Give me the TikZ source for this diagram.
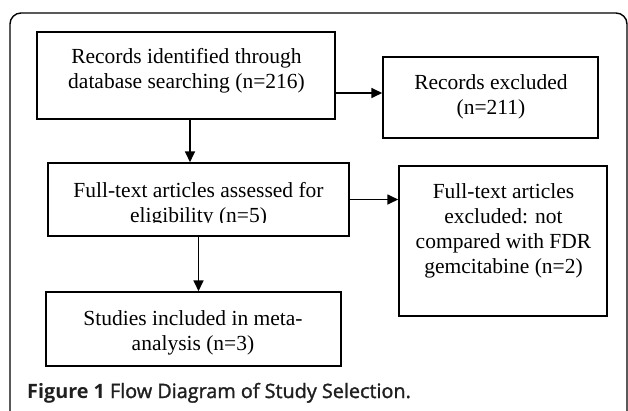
\documentclass[tikz,border=0pt]{standalone}
\usepackage{fontspec}
\setmainfont{Liberation Serif}
\newfontfamily\capfont[BoldFont={Open Sans Bold}]{Open Sans}
\newfontfamily\capsemi[FakeBold=1.5]{Open Sans}
\usetikzlibrary{arrows.meta}
\tikzset{
  box/.style={draw, line width=1.5pt, minimum width=#1, inner sep=0pt},
  txt/.style={align=center, inner sep=0pt, font=\fontsize{21.5}{25}\selectfont},
  arr/.style={line width=1.7pt, -{Triangle[length=11pt,width=10pt]}},
}
\begin{document}
\begin{tikzpicture}[x=1pt,y=1pt]
\useasboundingbox (0,0) rectangle (628,-410);
\draw[line width=1.4pt, rounded corners=11pt] (10,-412) -- (10,-13) -- (627,-13) -- (627,-412);
% boxes
\node[box=298pt, minimum height=87pt] (b1) at (186,-75.5) {};
\node[box=215pt, minimum height=81pt] (b2) at (490.5,-97.5) {};
\node[box=301pt, minimum height=73pt] (b3) at (198.5,-199.5) {};
\node[box=208pt, minimum height=150pt] (b4) at (503,-241) {};
\node[box=295pt, minimum height=74pt] (b5) at (193.5,-329) {};
% texts
\node[txt] (t1) at (186.5,-70.5) {Records identified through\\database searching (n=216)};
\node[txt] (t2) at (491,-96.5) {Records excluded\\(n=211)};
\begin{scope}
\clip (40,-160) rectangle (360,-222.5);
\node[txt] (t3) at (198.5,-204.5) {Full-text articles assessed for\\eligibility (n=5)};
\end{scope}
\node[txt] (t4) at (503.5,-230.5) {Full-text articles\\excluded: not\\compared with FDR\\gemcitabine (n=2)};
\node[txt] (t5) at (193,-332.5) {Studies included in meta-\\analysis (n=3)};
% connectors
\coordinate (p1) at ([yshift=-17.5pt]b1.east);
\draw[arr] (p1) -- (p1 -| b2.west);
\coordinate (p2) at ([xshift=4pt]b1.south);
\draw[arr] (p2) -- (p2 |- b3.north);
\draw[arr] (b3.east) -- (b3.east -| b4.west);
\draw[arr] (b3.south) -- (b3.south |- b5.north);
% caption
\node[anchor=base west, inner sep=0pt, text=black!88, font=\fontsize{19.8}{22}\selectfont] (cap) at (27,-398) {{\capfont\bfseries Figure 1} {\capsemi Flow Diagram of Study Selection.}};
\end{tikzpicture}
\end{document}
